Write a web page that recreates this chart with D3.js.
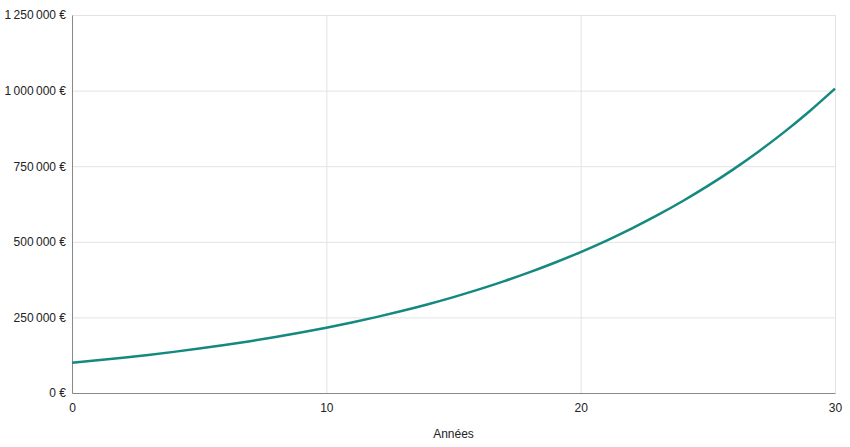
<!DOCTYPE html>
<html>
<head>
<meta charset="utf-8">
<script src="https://cdn.jsdelivr.net/npm/d3@7"></script>
<style>
  body { margin: 0; background: #fff; }
  svg { font-family: "Liberation Sans", Arial, sans-serif; }
</style>
</head>
<body>
<svg id="chart" width="850" height="447"></svg>
<script>
// valeurs (capital en fin d'année)
const years = d3.range(0, 31);
const capital = [
  100000, 108000, 116600, 126000, 136000, 147000, 158700, 171400, 185100, 199900,
  215900, 233200, 251800, 272000, 293700, 317200, 342600, 370000, 399600, 431600,
  466100, 503400, 543700, 587100, 634100, 684800, 739600, 798800, 862700, 931700,
  1006300
];
const xTicks = [0, 10, 20, 30];
const yTicks = [0, 250000, 500000, 750000, 1000000, 1250000];

const margin = {top: 15, right: 15, bottom: 54, left: 72},
    width = 850, height = 447;

const svg = d3.select("#chart");

const x = d3.scaleLinear().domain([0, 30]).range([margin.left, width - margin.right]);
const y = d3.scaleLinear().domain([0, 1250000]).range([height - margin.bottom, margin.top]);

// séparateur de milliers : espace fine insécable
const fr = d3.formatLocale({decimal: ",", thousands: "\u202F", grouping: [3], currency: ["", " €"]});
const fmt = v => fr.format(",d")(v) + "\u00A0€";

// grille
svg.append("g")
    .attr("transform", "translate(0," + (height - margin.bottom) + ")")
    .call(d3.axisBottom(x).tickValues(xTicks).tickSize(-(height - margin.top - margin.bottom)).tickFormat(""))
    .call(g => g.select(".domain").remove())
    .call(g => g.selectAll("line").attr("stroke", "#e3e3e3"));

svg.append("g")
    .attr("transform", "translate(" + margin.left + ",0)")
    .call(d3.axisLeft(y).tickValues(yTicks).tickSize(-(width - margin.left - margin.right)).tickFormat(""))
    .call(g => g.select(".domain").remove())
    .call(g => g.selectAll("line").attr("stroke", "#e3e3e3"));

// axes
const xAxis = svg.append("g")
    .attr("transform", "translate(0," + (height - margin.bottom) + ")")
    .call(d3.axisBottom(x).tickValues(xTicks).tickSize(0).tickPadding(10).tickFormat(d3.format("d")));
xAxis.select(".domain").attr("stroke", "#888");
xAxis.selectAll("text").attr("fill", "#222").style("font-size", "12px");

const yAxis = svg.append("g")
    .attr("transform", "translate(" + margin.left + ",0)")
    .call(d3.axisLeft(y).tickValues(yTicks).tickSize(0).tickPadding(6).tickFormat(fmt));
yAxis.select(".domain").attr("stroke", "#888");
yAxis.selectAll("text").attr("fill", "#222").style("font-size", "12px");

svg.append("text")
    .attr("x", (margin.left + width - margin.right) / 2)
    .attr("y", 438)
    .attr("text-anchor", "middle")
    .attr("fill", "#222")
    .style("font-size", "12px")
    .text("Années");

// courbe
const line = d3.line()
    .x((d, i) => x(years[i]))
    .y(d => y(d))
    .curve(d3.curveMonotoneX);

svg.append("path")
    .datum(capital)
    .attr("fill", "none")
    .attr("stroke", "#14897f")
    .attr("stroke-width", 2.5)
    .attr("d", line);
</script>
</body>
</html>
